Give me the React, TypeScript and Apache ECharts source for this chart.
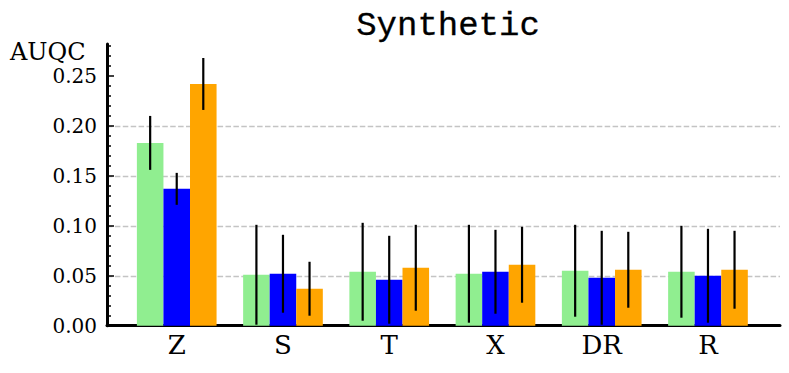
import React, { useEffect, useRef } from "react";
import * as echarts from "echarts";

const categories = ["Z", "S", "T", "X", "DR", "R"];
const seriesNames = ["Green", "Blue", "Orange"];
const seriesColors = ["#90EE90", "#0000FF", "#FFA500"];
const greenMeans = [0.183, 0.051, 0.054, 0.052, 0.055, 0.054];
const greenErrs = [0.027, 0.050, 0.049, 0.049, 0.046, 0.046];
const blueMeans = [0.137, 0.052, 0.046, 0.054, 0.048, 0.050];
const blueErrs = [0.016, 0.039, 0.044, 0.042, 0.047, 0.047];
const orangeMeans = [0.242, 0.037, 0.058, 0.061, 0.056, 0.056];
const orangeErrs = [0.026, 0.027, 0.043, 0.038, 0.038, 0.039];
const majorTicks = [0, 0.05, 0.1, 0.15, 0.2, 0.25];
const minorTicks = [
  0.01, 0.02, 0.03, 0.04, 0.06, 0.07, 0.08, 0.09, 0.11, 0.12, 0.13, 0.14,
  0.16, 0.17, 0.18, 0.19, 0.21, 0.22, 0.23, 0.24, 0.26, 0.27, 0.28,
];
const yMax = 0.282;
const titleText = "Synthetic";
const yLabel = "AUQC";

const means = [greenMeans, blueMeans, orangeMeans];
const errs = [greenErrs, blueErrs, orangeErrs];

export default function App() {
  const ref = useRef<HTMLDivElement>(null);
  useEffect(() => {
    if (!ref.current) return;
    const chart = echarts.init(ref.current, undefined, { renderer: "svg" });
    const serif = "DejaVu Serif";
    const barSeries = means.map((m, k) => ({
      type: "bar",
      name: seriesNames[k],
      xAxisIndex: 1,
      yAxisIndex: 2,
      data: m,
      barWidth: "25%",
      barGap: "0%",
      itemStyle: { color: seriesColors[k] },
      z: 2,
    }));
    const errSeries = means.map((m, k) => ({
      type: "custom",
      name: seriesNames[k] + " err",
      xAxisIndex: 1,
      yAxisIndex: 2,
      z: 5,
      clip: false,
      encode: { x: 0, y: 1 },
      data: m.map((v, i) => [i, v, errs[k][i]]),
      renderItem: (params: any, api: any) => {
        const xi = api.value(0);
        const mv = api.value(1);
        const ev = api.value(2);
        const band = api.size([1, 0])[0];
        const off = (k - 1) * band * 0.25;
        const top = api.coord([xi, mv + ev]);
        const bot = api.coord([xi, mv - ev]);
        return {
          type: "line",
          shape: { x1: top[0] + off, y1: top[1], x2: bot[0] + off, y2: bot[1] },
          style: { stroke: "#000", lineWidth: 2.2 },
        };
      },
    }));
    chart.setOption({
      animation: false,
      backgroundColor: "#fff",
      title: [
        {
          text: titleText,
          left: 443,
          top: 4,
          textAlign: "center",
          textStyle: {
            fontFamily: "Liberation Mono",
            fontSize: 34,
            fontWeight: "normal",
            color: "#000",
            textBorderColor: "#000",
            textBorderWidth: 0.3,
          },
        },
        {
          text: yLabel,
          left: 10,
          top: 40,
          padding: 0,
          textStyle: {
            fontFamily: serif,
            fontSize: 24,
            lineHeight: 24,
            fontWeight: "normal",
            color: "#000",
          },
        },
      ],
      grid: [
        { left: 107, right: 9, top: 44, bottom: 47.3 },
        { left: 123.6, right: 27.9, top: 44, bottom: 47.3 },
      ],
      xAxis: [
        {
          type: "category",
          gridIndex: 0,
          data: categories,
          axisLine: { show: true, lineStyle: { color: "#000", width: 3 } },
          axisTick: { show: false },
          axisLabel: { show: false },
          splitLine: { show: false },
        },
        {
          type: "category",
          gridIndex: 1,
          data: categories,
          axisLine: { show: false },
          axisTick: { show: false },
          axisLabel: {
            show: true,
            margin: 6,
            fontFamily: serif,
            fontSize: 26,
            color: "#000",
          },
          splitLine: { show: false },
        },
      ],
      yAxis: [
        {
          type: "value",
          gridIndex: 0,
          position: "left",
          min: 0,
          max: yMax,
          interval: 0.05,
          axisLine: { show: true, lineStyle: { color: "#000", width: 3 } },
          axisTick: {
            show: true,
            inside: true,
            length: 7,
            customValues: majorTicks,
            lineStyle: { color: "#000", width: 1.5 },
          },
          axisLabel: {
            show: true,
            customValues: majorTicks,
            margin: 10,
            fontFamily: serif,
            fontSize: 20,
            color: "#000",
            formatter: (v: number) => v.toFixed(2),
          },
          splitLine: {
            show: true,
            showMinLine: false,
            showMaxLine: false,
            lineStyle: { color: "#c4c4c4", width: 1.3, type: [5.5, 2.4] },
          },
        },
        {
          type: "value",
          gridIndex: 0,
          position: "left",
          offset: 0,
          min: 0,
          max: yMax,
          interval: 0.05,
          axisLine: { show: false },
          axisTick: {
            show: true,
            inside: true,
            length: 4,
            customValues: minorTicks,
            lineStyle: { color: "#000", width: 1.5 },
          },
          axisLabel: { show: false },
          splitLine: { show: false },
        },
        {
          type: "value",
          gridIndex: 1,
          min: 0,
          max: yMax,
          show: false,
          splitLine: { show: false },
        },
      ],
      series: [...barSeries, ...errSeries],
    });
    return () => chart.dispose();
  }, []);
  return (
    <div
      ref={ref}
      style={{ position: "fixed", left: 0, top: 0, width: 789, height: 373 }}
    />
  );
}
